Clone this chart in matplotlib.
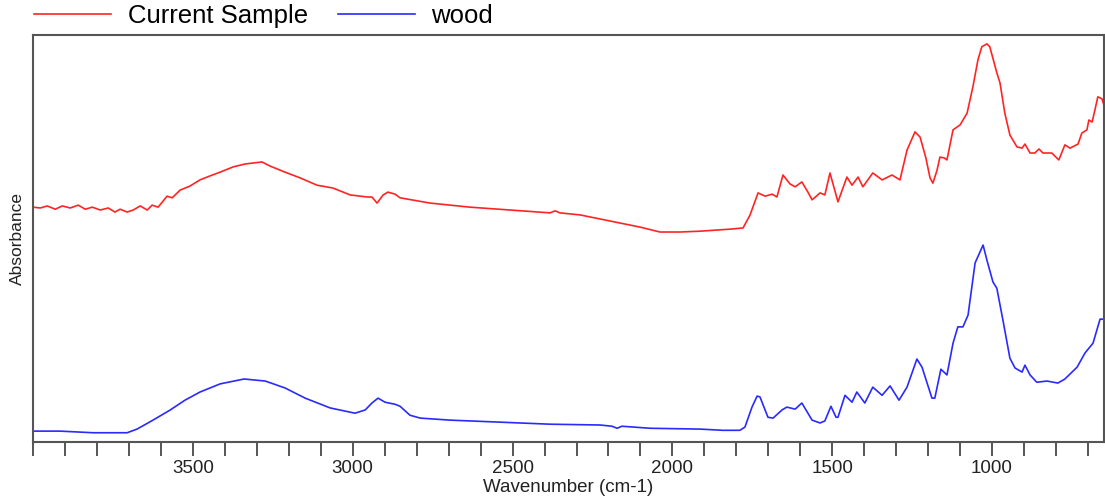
import numpy as np
import matplotlib
matplotlib.use('Agg')
import matplotlib.pyplot as plt
from matplotlib.ticker import MultipleLocator

plt.rcParams['font.family'] = ['Liberation Sans', 'DejaVu Sans']

# ── Spectra (wavenumber cm-1, absorbance a.u.) ─────────────────────────────
sample_wn = [4000, 3978, 3956, 3931, 3909, 3884, 3859, 3837, 3815, 3790,
             3765, 3744, 3728, 3706, 3687, 3665, 3643, 3628, 3609, 3581,
             3565, 3540, 3509, 3478, 3446, 3415, 3374, 3337, 3306, 3284,
             3259, 3212, 3165, 3112, 3062, 3008, 2955, 2940, 2924, 2905,
             2890, 2868, 2852, 2758, 2633, 2508, 2383, 2367, 2352, 2289,
             2195, 2101, 2039, 1976, 1914, 1820, 1779, 1757, 1732, 1710,
             1688, 1673, 1654, 1632, 1616, 1595, 1576, 1563, 1538, 1523,
             1507, 1482, 1454, 1438, 1419, 1404, 1373, 1344, 1313, 1288,
             1266, 1241, 1225, 1207, 1194, 1185, 1172, 1163, 1150, 1141,
             1122, 1100, 1078, 1060, 1044, 1032, 1016, 1007, 985, 975,
             960, 944, 922, 906, 897, 881, 866, 853, 841, 813,
             791, 772, 756, 731, 719, 703, 697, 687, 678, 669,
             656, 650]
sample_abs = [0.577, 0.575, 0.580, 0.572, 0.580, 0.575, 0.582, 0.572, 0.577, 0.570,
              0.575, 0.565, 0.572, 0.565, 0.570, 0.580, 0.570, 0.582, 0.577, 0.604,
              0.600, 0.619, 0.629, 0.644, 0.654, 0.663, 0.676, 0.683, 0.686, 0.688,
              0.678, 0.663, 0.649, 0.631, 0.624, 0.607, 0.602, 0.602, 0.587, 0.607,
              0.614, 0.609, 0.600, 0.587, 0.577, 0.570, 0.563, 0.568, 0.563, 0.558,
              0.543, 0.528, 0.516, 0.516, 0.518, 0.523, 0.526, 0.558, 0.612, 0.604,
              0.609, 0.602, 0.656, 0.634, 0.627, 0.639, 0.614, 0.595, 0.612, 0.607,
              0.661, 0.590, 0.651, 0.631, 0.651, 0.627, 0.661, 0.644, 0.656, 0.644,
              0.717, 0.762, 0.749, 0.698, 0.649, 0.636, 0.668, 0.700, 0.698, 0.693,
              0.767, 0.779, 0.808, 0.872, 0.939, 0.971, 0.978, 0.971, 0.907, 0.882,
              0.808, 0.754, 0.725, 0.722, 0.732, 0.710, 0.710, 0.720, 0.710, 0.710,
              0.693, 0.730, 0.722, 0.732, 0.759, 0.767, 0.791, 0.786, 0.816, 0.848,
              0.843, 0.828]

wood_wn = [4000, 3916, 3812, 3706, 3675, 3625, 3571, 3525, 3478, 3415,
           3340, 3274, 3212, 3149, 3071, 2993, 2961, 2940, 2921, 2899,
           2868, 2852, 2821, 2789, 2696, 2539, 2383, 2226, 2189, 2173,
           2158, 2070, 1914, 1842, 1789, 1773, 1751, 1735, 1726, 1701,
           1685, 1657, 1642, 1616, 1595, 1563, 1538, 1523, 1504, 1488,
           1482, 1460, 1438, 1423, 1398, 1373, 1344, 1319, 1291, 1266,
           1235, 1219, 1188, 1179, 1160, 1141, 1122, 1107, 1091, 1075,
           1053, 1028, 1016, 997, 985, 966, 944, 928, 906, 897,
           881, 860, 828, 794, 772, 734, 709, 684, 662, 650]
wood_abs = [0.027, 0.027, 0.023, 0.023, 0.032, 0.054, 0.079, 0.103, 0.123, 0.143,
            0.155, 0.150, 0.133, 0.108, 0.084, 0.071, 0.079, 0.096, 0.108, 0.098,
            0.093, 0.088, 0.066, 0.059, 0.054, 0.049, 0.044, 0.042, 0.039, 0.034,
            0.039, 0.034, 0.032, 0.029, 0.029, 0.037, 0.086, 0.113, 0.111, 0.061,
            0.059, 0.079, 0.086, 0.081, 0.096, 0.054, 0.047, 0.052, 0.088, 0.061,
            0.061, 0.115, 0.098, 0.123, 0.096, 0.135, 0.115, 0.138, 0.103, 0.135,
            0.204, 0.184, 0.108, 0.108, 0.179, 0.165, 0.243, 0.283, 0.283, 0.312,
            0.440, 0.484, 0.447, 0.393, 0.378, 0.300, 0.206, 0.182, 0.172, 0.189,
            0.165, 0.147, 0.150, 0.145, 0.155, 0.184, 0.219, 0.243, 0.302, 0.302]

AX_COL = '#555555'

fig = plt.figure(figsize=(11.05, 4.99), dpi=100, facecolor='white')
ax = fig.add_axes([0.030, 0.114, 0.969, 0.816])

l1, = ax.plot(sample_wn, sample_abs, color='#ff2424', lw=1.2, label='Current Sample')
l2, = ax.plot(wood_wn, wood_abs, color='#2a2aff', lw=1.2, label='wood')

ax.set_xlim(4000, 650)
ax.set_ylim(0, 1)
ax.set_yticks([])
ax.xaxis.set_major_locator(MultipleLocator(500))
ax.xaxis.set_minor_locator(MultipleLocator(100))
ax.tick_params(axis='x', which='both', direction='out', length=10, width=1.4,
               color=AX_COL, labelsize=13.5, labelcolor='#222222', pad=3)
ax.set_xticklabels(['' if t > 3500 or t < 1000 else f'{int(t)}'
                    for t in ax.get_xticks()])
for sp in ax.spines.values():
    sp.set_color(AX_COL)
    sp.set_linewidth(1.5)

ax.set_xlabel('Wavenumber (cm-1)', fontsize=13.5, color='#222222', labelpad=1)
ax.set_ylabel('Absorbance', fontsize=12.5, color='#222222', labelpad=6)

fig.legend(handles=[l1, l2], loc='center left', bbox_to_anchor=(0.031, 0.968),
           ncol=2, frameon=False, fontsize=18.5, handlelength=3.0,
           handletextpad=0.65, columnspacing=1.15, borderpad=0, borderaxespad=0)

fig.savefig('out.png', dpi=100, facecolor='white')
